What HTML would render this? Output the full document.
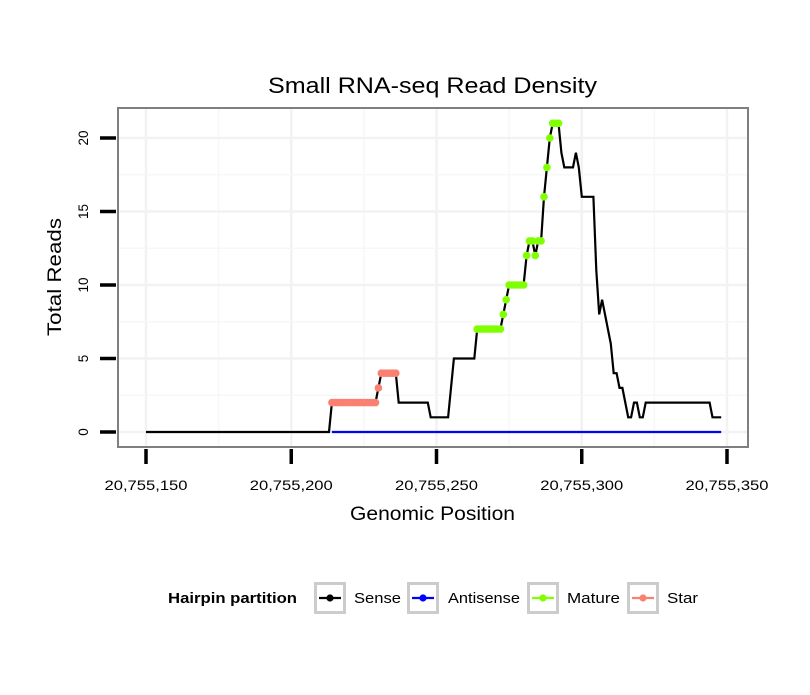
<!DOCTYPE html>
<html><head><meta charset="utf-8"><style>
body{margin:0;background:#fff;}
svg text{font-family:"Liberation Sans",sans-serif;}
</style></head><body>
<svg id="chart" width="810" height="690">
<rect width="810" height="690" fill="#fff"/>
<g id="grid"></g>
<g id="series"></g>
<rect x="118" y="108" width="630" height="339" fill="none" stroke="#7f7f7f" stroke-width="2"/>
<g id="axes"></g>
<text x="268" y="93" font-size="22" textLength="329" lengthAdjust="spacingAndGlyphs">Small RNA-seq Read Density</text>
<text x="350" y="520" font-size="19" textLength="165" lengthAdjust="spacingAndGlyphs">Genomic Position</text>
<text transform="translate(61,336) rotate(-90)" font-size="19" textLength="118" lengthAdjust="spacingAndGlyphs">Total Reads</text>
<g id="legend">
<text x="168" y="603" font-size="14.5" font-weight="bold" textLength="129" lengthAdjust="spacingAndGlyphs">Hairpin partition</text>
</g>
</svg>
<script>
const base = 20755150;
const xTicks = [20755150, 20755200, 20755250, 20755300, 20755350];
const xTickLabels = ["20,755,150","20,755,200","20,755,250","20,755,300","20,755,350"];
const yTicks = [0,5,10,15,20];
// sense reads by offset from base (offset 0..198)
const senseRuns = [[0,63,0],[64,79,2],[80,80,3],[81,86,4],[87,97,2],[98,104,1],[105,105,3],[106,113,5],[114,122,7],[123,123,8],[124,124,9],[125,130,10],[131,131,12],[132,133,13],[134,134,12],[135,136,13],[137,137,16],[138,138,18],[139,139,20],[140,142,21],[143,143,19],[144,147,18],[148,148,19],[149,149,18],[150,154,16],[155,155,11],[156,156,8],[157,157,9],[158,158,8],[159,159,7],[160,160,6],[161,162,4],[163,164,3],[165,165,2],[166,167,1],[168,169,2],[170,171,1],[172,194,2],[195,198,1]];
const antisenseRange = [64,198];
const starRange = [64,86];
const matureRange = [114,142];

const X = p => 146 + (p - base) * 2.905;
const XO = o => 146 + o * 2.905;
const Y = v => 432 - v * 14.7;
const NS = "http://www.w3.org/2000/svg";
function mk(tag, attrs, parent){const e=document.createElementNS(NS,tag);for(const k in attrs)e.setAttribute(k,attrs[k]);parent.appendChild(e);return e;}

const sense = [];
senseRuns.forEach(r=>{for(let o=r[0];o<=r[1];o++)sense[o]=r[2];});

const grid = document.getElementById('grid');
mk('rect',{x:118,y:108,width:630,height:339,fill:'#fff'},grid);
for(let i=0;i<xTicks.length;i++){
  const gx=X(xTicks[i]);
  const l=mk('line',{x1:gx,x2:gx,y1:108,y2:447,stroke:'#f2f2f2','stroke-width':2.5},grid);
  
  
  if(i<xTicks.length-1){const m=X((xTicks[i]+xTicks[i+1])/2);
    const ml=mk('line',{x1:m,x2:m,y1:108,y2:447,stroke:'#f7f7f7','stroke-width':1.5},grid);
    
    }
}
for(let i=0;i<yTicks.length;i++){
  const gy=Y(yTicks[i]);
  const l=mk('line',{x1:118,x2:748,y1:gy,y2:gy,stroke:'#f2f2f2','stroke-width':2.5},grid);
  
  
  const m=Y(yTicks[i]+2.5);
  if(m>108){const ml=mk('line',{x1:118,x2:748,y1:m,y2:m,stroke:'#f7f7f7','stroke-width':1.5},grid);
    
    }
}

const ser = document.getElementById('series');
function pathFrom(a,b,fn){let d='';for(let o=a;o<=b;o++){d+=(o===a?'M':'L')+XO(o).toFixed(1)+','+Y(fn(o)).toFixed(1);}return d;}
const ap=mk('path',{d:pathFrom(antisenseRange[0],antisenseRange[1],o=>0),fill:'none',stroke:'#0000ff','stroke-width':2.2},ser);


const sp=mk('path',{d:pathFrom(0,198,o=>sense[o]),fill:'none',stroke:'#000','stroke-width':2.2},ser);


function pts(range,color,name){
  for(let o=range[0];o<=range[1];o++){
    const c=mk('circle',{cx:XO(o),cy:Y(sense[o]),r:3.8,fill:color},ser);
    
    
  }
}
pts(starRange,'#fa8072','star');
pts(matureRange,'#7fff00','mature');

const ax=document.getElementById('axes');
xTicks.forEach((t,i)=>{
  const tx=X(t);
  const l=mk('line',{x1:tx,x2:tx,y1:449,y2:464,stroke:'#000','stroke-width':3.5},ax);
  
  
  const tl=mk('text',{x:tx-41.5,y:490,'font-size':13.5,textLength:83,lengthAdjust:'spacingAndGlyphs'},ax);
  tl.textContent=xTickLabels[i];
  
  
});
yTicks.forEach(t=>{
  const ty=Y(t);
  const l=mk('line',{x1:100,x2:116,y1:ty,y2:ty,stroke:'#000','stroke-width':3.5},ax);
  
  
  const tl=mk('text',{transform:`translate(88,${ty}) rotate(-90)`,'font-size':13.5,'text-anchor':'middle'},ax);
  tl.textContent=String(t);
  
  
});

const lg=document.getElementById('legend');
const items=[['Sense','#000',314,354,47],['Antisense','#0000ff',407,448,72],['Mature','#7fff00',527,567,53],['Star','#fa8072',627,667,31]];
items.forEach(it=>{
  const g=mk('g',{},lg);
  
  
  mk('rect',{x:it[2]+1.5,y:583.5,width:29,height:29,fill:'#fff',stroke:'#cccccc','stroke-width':3},g);
  mk('line',{x1:it[2]+5,x2:it[2]+27,y1:598,y2:598,stroke:it[1],'stroke-width':2.2},g);
  mk('circle',{cx:it[2]+16,cy:598,r:3.6,fill:it[1]},g);
  const t=mk('text',{x:it[3],y:603,'font-size':14.5,textLength:it[4],lengthAdjust:'spacingAndGlyphs'},g);
  t.textContent=it[0];
});
</script>
</body></html>
